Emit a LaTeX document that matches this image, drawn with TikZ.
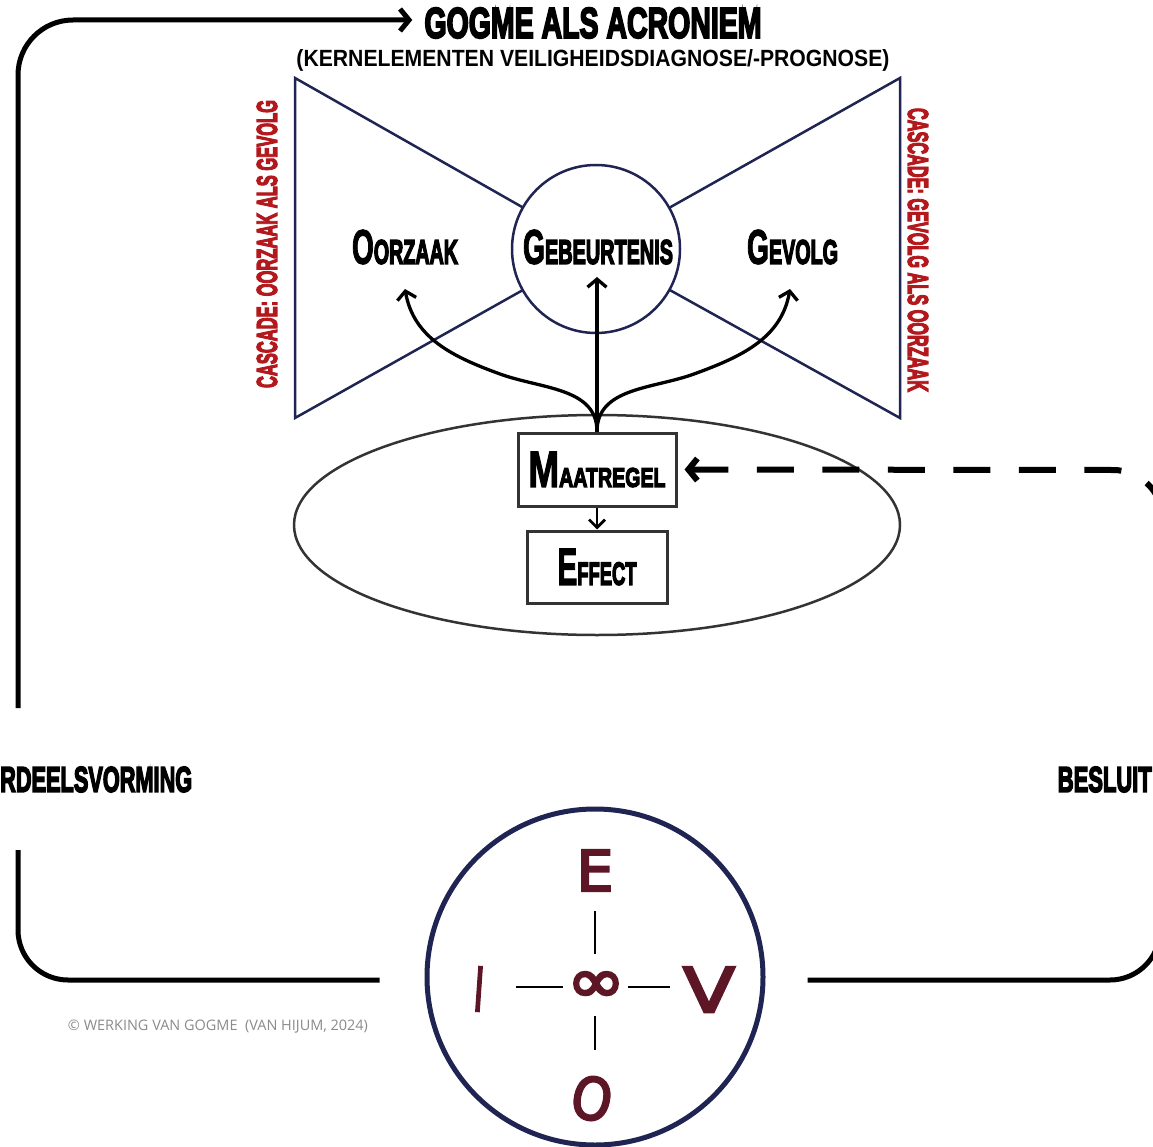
\documentclass[tikz,border=0pt]{standalone}
\usepackage{fontspec}
\usepackage{graphicx}
\usetikzlibrary{arrows.meta}
\newfontfamily\heavy[FakeBold=5]{Liberation Sans Bold}
\newfontfamily\heavyinit[FakeBold=2.5]{Liberation Sans Bold}
\newfontfamily\subf{Liberation Sans Bold}
\newfontfamily\copyf{Open Sans}
\newfontfamily\handf[FakeBold=4]{DejaVu Sans}
\definecolor{navy}{HTML}{1F2452}
\definecolor{cascred}{HTML}{B3181C}
\definecolor{hand}{HTML}{5C1626}
\definecolor{boxgray}{HTML}{333333}
\definecolor{copygray}{HTML}{8A8A8A}
\newcommand\fitbox[3]{\resizebox{#1pt}{#2pt}{#3}}
\newcommand\scw[3]{{\heavyinit\fontsize{30}{30}\selectfont #1}{\heavy\fontsize{#3}{#3}\selectfont #2}}
\begin{document}
\begin{tikzpicture}[x=1pt,y=1pt,
  every node/.style={inner sep=0pt},
  loopline/.style={line width=5pt,black},
  bow/.style={navy,line width=2.5pt,line join=miter},
  arr/.style={line width=3.3pt,black,-{Straight Barb[length=8pt,width=19pt]}},
  boxnode/.style={draw=boxgray,line width=3pt,fill=white},
  handletter/.style={text=hand},
  evioline/.style={line width=2.5pt,black}]
\useasboundingbox (0,0) rectangle (1153,-1147);

% bow-tie
\draw[bow] (295,-78) -- (596,-249) -- (295,-418) -- cycle;
\draw[bow] (900,-78) -- (596,-249) -- (900,-418) -- cycle;
\node[circle,draw=navy,line width=2.5pt,fill=white,minimum size=168pt] (gebc) at (596,-249) {};

% title texts
\node (title) at (593,-23) {\fitbox{337}{30}{\heavy GOGME ALS ACRONIEM}};
\node (sub) at (593,-60) {\fitbox{593}{17}{\subf (KERNELEMENTEN VEILIGHEIDSDIAGNOSE/-PROGNOSE)}};

% cascades
\node[rotate=90,text=cascred] (casl) at (267,-244) {\fitbox{288}{20}{\heavy CASCADE: OORZAAK ALS GEVOLG}};
\node[rotate=-90,text=cascred] (casr) at (918,-250) {\fitbox{284}{20}{\heavy CASCADE: GEVOLG ALS OORZAAK}};

% labels
\node (oor) at (405,-247) {\fitbox{106}{34}{\scw{O}{ORZAAK}{21}}};
\node (geb) at (598,-247) {\fitbox{150}{34}{\scw{G}{EBEURTENIS}{21}}};
\node (gev) at (792.5,-247) {\fitbox{91}{34}{\scw{G}{EVOLG}{21}}};

% ellipse
\draw[boxgray,line width=2.5pt] (597,-525) ellipse [x radius=303, y radius=110];

% boxes
\node[boxnode,minimum width=158pt,minimum height=73pt] (maat) at (597,-469.5)
  {\fitbox{137}{35}{\scw{M}{AATREGEL}{16}}};
\node[boxnode,minimum width=140pt,minimum height=72pt] (eff) at (597,-567)
  {\fitbox{79}{36}{\scw{E}{FFECT}{18.5}}};

% arrows from maatregel
\coordinate (tipO) at (405,-289);
\coordinate (tipG) at (597,-277);
\coordinate (tipV) at (790,-289);
\draw[arr] (maat.north) -- (tipG);
\draw[arr] (maat.north) to[out=90,in=-20] (500,-374) to[out=160,in=-80] (tipO);
\draw[arr] (maat.north) to[out=90,in=200] (694,-374) to[out=20,in=260] (tipV);
\draw[line width=2.8pt,black,-{Straight Barb[length=8pt,width=16pt]}] (maat.south) -- (eff.north);

% side labels
\node[anchor=west] (oordeel) at (0,-779.5) {\fitbox{192}{25}{\heavy RDEELSVORMING}};
\node[anchor=east] (besluit) at (1152,-779.5) {\fitbox{94}{25}{\heavy BESLUIT}};

% EIVO circle
\node[circle,draw=navy,line width=5pt,minimum size=336pt] (evio) at (595,-977) {};
\node[handletter] (E) at (595,-870.5) {\fitbox{37}{41}{\handf E}};
\node[handletter,rotate=-4] (I) at (479,-989) {\fitbox{10}{44}{\handf I}};
\node[handletter] (V) at (709,-989.5) {\fitbox{52}{45}{\handf V}};
\node[handletter,rotate=-12] (O) at (592,-1098.5) {\fitbox{40}{43}{\handf O}};
\node[handletter] (inf) at (596,-987) {\fitbox{58}{30}{\handf ∞}};
\draw[evioline,shorten <=20pt,shorten >=18pt] (E.south) -- (E.south |- inf.north);
\draw[evioline,shorten <=14pt,shorten >=27pt] (inf.south -| E.south) -- (O.north -| E.south);
\draw[evioline,shorten <=32pt,shorten >=4pt] (I.east |- inf.west) -- (inf.west);
\draw[evioline,shorten <=3pt,shorten >=13pt] (inf.east) -- (V.west |- inf.east);

% copyright
\node (copy) at (218,-1027) {\resizebox{300pt}{!}{\copyf\color{copygray}© WERKING VAN GOGME\ \ (VAN HIJUM, 2024)}};

% outer loop
\coordinate (lstart) at (18,-708);
\coordinate (lstart2) at (18,-850);
\coordinate (rend) at (1160,-850);
\coordinate (rend2) at (1163,-720);
\draw[loopline,-{Straight Barb[length=9pt,width=22pt]}] (lstart) -- (18,-75)
  arc[start angle=180,end angle=90,radius=55] -- ([xshift=-12pt,yshift=3pt]title.west);
\draw[loopline,shorten >=45pt] (lstart2) -- (18,-930)
  arc[start angle=180,end angle=270,radius=50] -- ([yshift=-3pt]evio.west);
\draw[loopline,shorten <=42pt] ([yshift=-3pt]evio.east) -- (1110,-980)
  arc[start angle=-90,end angle=0,radius=50] -- (rend);
\draw[loopline,line width=6pt,dash pattern=on 37pt off 28.5pt,{Straight Barb[length=9pt,width=22pt]}-,shorten <=7pt]
  (maat.east) -- (1113,-470) arc[start angle=90,end angle=0,radius=50] -- (rend2);
\end{tikzpicture}
\end{document}
